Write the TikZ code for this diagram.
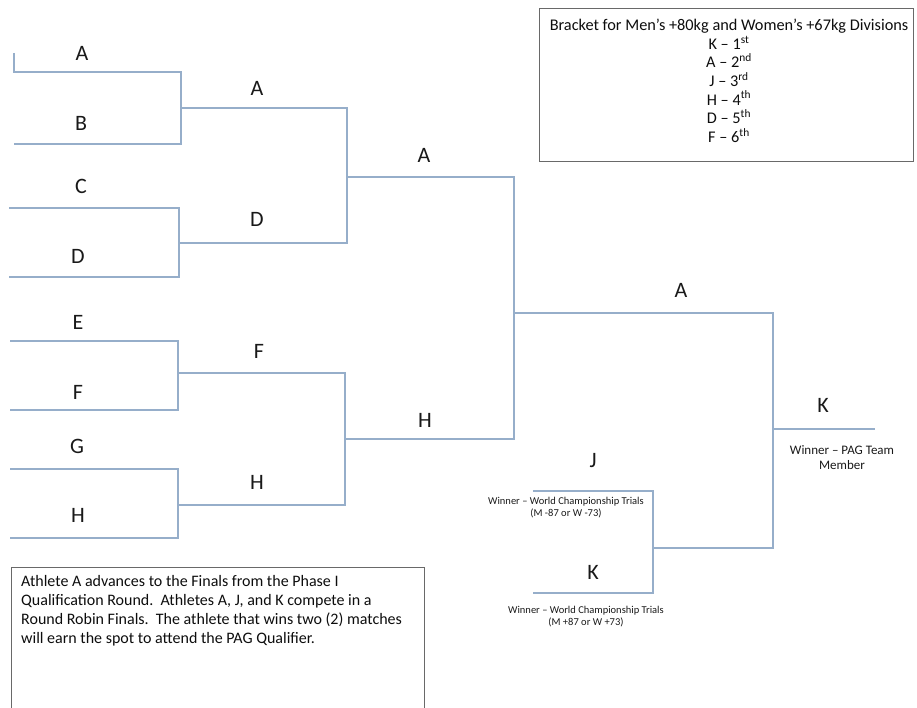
\documentclass[tikz,border=0pt]{standalone}
\usepackage{fontspec}
\setmainfont{Carlito}
\usetikzlibrary{positioning}
\definecolor{brkblue}{RGB}{150,174,202}
\definecolor{boxgray}{RGB}{105,105,105}
\tikzset{
  brk line/.style={draw=brkblue,line width=1.2pt},
  brk name/.style={font=\fontsize{22}{26}\selectfont,text=black!90,inner sep=0pt},
  brk note/.style={font=\fontsize{10.5}{12}\selectfont,align=center,inner sep=0pt,text=black!90},
  info box/.style={draw=boxgray,line width=1pt},
  info text/.style={font=\fontsize{16}{19}\selectfont,inner sep=0pt,text=black!95}
}

\begin{document}
\begin{tikzpicture}[x=1pt,y=-1pt]
  \useasboundingbox (0,0) rectangle (917,708);
  % first round
  \coordinate (a0) at (14,53);
  \coordinate (a1) at (14,72);  \coordinate (a2) at (181,72);
  \coordinate (b1) at (14,144); \coordinate (b2) at (181,144);
  \coordinate (c1) at (9,208);  \coordinate (c2) at (179,208);
  \coordinate (d1) at (9,277);  \coordinate (d2) at (179,277);
  \coordinate (e1) at (10,341); \coordinate (e2) at (178,341);
  \coordinate (f1) at (10,410); \coordinate (f2) at (178,410);
  \coordinate (g1) at (10,469); \coordinate (g2) at (178,469);
  \coordinate (h1) at (10,538); \coordinate (h2) at (178,538);
  \draw[brk line] (a0)--(a1)--(a2)--(b2)--(b1);
  \draw[brk line] (c1)--(c2)--(d2)--(d1);
  \draw[brk line] (e1)--(e2)--(f2)--(f1);
  \draw[brk line] (g1)--(g2)--(h2)--(h1);
  % second round
  \coordinate (ab1) at (181,108); \coordinate (ab2) at (347,108);
  \coordinate (cd1) at (179,243); \coordinate (cd2) at (347,243);
  \coordinate (ef1) at (178,373); \coordinate (ef2) at (345,373);
  \coordinate (gh1) at (178,505); \coordinate (gh2) at (345,505);
  \draw[brk line] (ab1)--(ab2)--(cd2)--(cd1);
  \draw[brk line] (ef1)--(ef2)--(gh2)--(gh1);
  % third round
  \coordinate (ad1) at (347,177); \coordinate (ad2) at (514,177);
  \coordinate (eh1) at (345,439); \coordinate (eh2) at (514,439);
  \draw[brk line] (ad1)--(ad2)--(eh2)--(eh1);
  % round robin
  \coordinate (j1) at (533,491); \coordinate (j2) at (653,491);
  \coordinate (k1) at (533,593); \coordinate (k2) at (653,593);
  \draw[brk line] (j1)--(j2)--(k2)--(k1);
  \coordinate (fin1) at (514,313); \coordinate (fin2) at (773,313);
  \coordinate (jk1) at (653,548);  \coordinate (jk2) at (773,548);
  \draw[brk line] (fin1)--(fin2)--(jk2)--(jk1);
  \coordinate (w1) at (773,429); \coordinate (w2) at (875,429);
  \draw[brk line] (w1)--(w2);

  % names
  \node[brk name] (nA) at (82,53) {A};
  \node[brk name] (nB) at (81,123) {B};
  \node[brk name] (nC) at (81,186) {C};
  \node[brk name] (nD) at (78,256) {D};
  \node[brk name] (nE) at (78,322) {E};
  \node[brk name] (nF) at (78,392) {F};
  \node[brk name] (nG) at (77,446) {G};
  \node[brk name] (nH) at (78,515) {H};
  \node[brk name] (nAB) at (257,88) {A};
  \node[brk name] (nCD) at (257,219) {D};
  \node[brk name] (nEF) at (259,351) {F};
  \node[brk name] (nGH) at (257,482) {H};
  \node[brk name] (nAD) at (424,155) {A};
  \node[brk name] (nEH) at (425,420) {H};
  \node[brk name] (nFin) at (681,290) {A};
  \node[brk name] (nJ) at (593,461) {J};
  \node[brk name] (nK) at (593,572) {K};
  \node[brk name] (nWin) at (823,405) {K};

  % notes
  \node[brk note] (jNote) at (566,508) {Winner -- World Championship Trials\\(M -87 or W -73)};
  \node[brk note] (kNote) at (586,617) {Winner -- World Championship Trials\\(M +87 or W +73)};
  \node[brk note,font=\fontsize{13}{15}\selectfont] (wNote) at (842,458) {Winner -- PAG Team\\Member};

  % placings box
  \coordinate (pb1) at (539,9); \coordinate (pb2) at (913,162);
  \draw[info box] (pb1) rectangle (pb2);
  \node[info text,anchor=north,align=center,font=\fontsize{16.3}{18.6}\selectfont]
    (places) at (729,19) {Bracket for Men’s +80kg and Women’s +67kg Divisions\\
    K -- 1\textsuperscript{st}\\A -- 2\textsuperscript{nd}\\J -- 3\textsuperscript{rd}\\
    H -- 4\textsuperscript{th}\\D -- 5\textsuperscript{th}\\F -- 6\textsuperscript{th}};

  % notes box
  \coordinate (nb1) at (11,710); \coordinate (nb2) at (11,567);
  \coordinate (nb3) at (424,567); \coordinate (nb4) at (424,710);
  \draw[info box] (nb1)--(nb2)--(nb3)--(nb4);
  \node[info text,anchor=north west,align=left] (rules) at (21,575)
    {Athlete A advances to the Finals from the Phase I\\
     Qualification Round.\ \ Athletes A, J, and K compete in a\\
     Round Robin Finals.\ \ The athlete that wins two (2) matches\\
     will earn the spot to attend the PAG Qualifier.};
\end{tikzpicture}
\end{document}
